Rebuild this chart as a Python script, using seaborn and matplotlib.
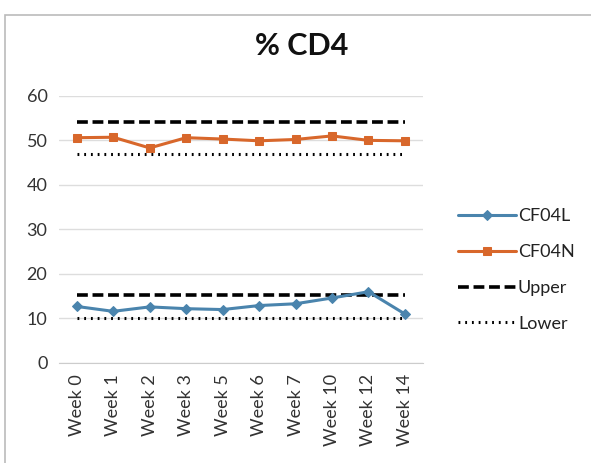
import pandas as pd
import matplotlib.pyplot as plt
import seaborn as sns
from matplotlib.patches import Rectangle

# === 1. Data ===
weeks = ["Week 0", "Week 1", "Week 2", "Week 3", "Week 5",
         "Week 6", "Week 7", "Week 10", "Week 12", "Week 14"]
cf04l = [12.7, 11.6, 12.6, 12.2, 12.0, 12.9, 13.3, 14.6, 16.0, 11.0]
cf04n = [50.6, 50.7, 48.3, 50.6, 50.3, 49.9, 50.2, 51.0, 50.0, 49.9]
upper_hi = [54.2] * len(weeks)
lower_hi = [46.9] * len(weeks)
upper_lo = [15.3] * len(weeks)
lower_lo = [10.2] * len(weeks)

df = pd.DataFrame({"week": weeks, "x": range(len(weeks)),
                   "CF04L": cf04l, "CF04N": cf04n,
                   "upper_hi": upper_hi, "lower_hi": lower_hi,
                   "upper_lo": upper_lo, "lower_lo": lower_lo})

# === 2. Plot ===
sns.set_style("white")
plt.rcParams["font.family"] = ["Lato", "DejaVu Sans"]

fig = plt.figure(figsize=(5.91, 4.63), dpi=100)
ax = fig.add_axes([0.099, 0.216, 0.617, 0.577])

blue = "#4a84ad"
orange = "#d8672b"

sns.lineplot(data=df, x="x", y="upper_hi", ax=ax, color="black", lw=2.6,
             label="Upper")
sns.lineplot(data=df, x="x", y="lower_hi", ax=ax, color="black", lw=2.2,
             label="Lower")
sns.lineplot(data=df, x="x", y="upper_lo", ax=ax, color="black", lw=2.6)
sns.lineplot(data=df, x="x", y="lower_lo", ax=ax, color="black", lw=2.2)
for ln, ls in zip(ax.lines, [(0, (3, 1.3)), (0, (0.6, 1.6)), (0, (3, 1.3)), (0, (0.6, 1.6))]):
    ln.set_linestyle(ls)

sns.lineplot(data=df, x="x", y="CF04L", ax=ax, color=blue, lw=2.2,
             marker="D", markersize=5, markeredgecolor=blue, label="CF04L")
sns.lineplot(data=df, x="x", y="CF04N", ax=ax, color=orange, lw=2.2,
             marker="s", markersize=6, markeredgecolor=orange, label="CF04N")

ax.set_xlim(-0.5, len(weeks) - 0.5)
ax.set_ylim(0, 60)
ax.set_yticks([0, 10, 20, 30, 40, 50, 60])
ax.set_xticks(range(len(weeks)))
ax.set_xticklabels(weeks, rotation=90)
ax.tick_params(axis="both", labelsize=13, colors="#333333", length=0, pad=8)
ax.set_xlabel("")
ax.set_ylabel("")
ax.yaxis.grid(True, color="#dddddd", lw=1)
for s in ["top", "right", "left"]:
    ax.spines[s].set_visible(False)
ax.spines["bottom"].set_color("#cccccc")

# Legend order: CF04L, CF04N, Upper, Lower
handles, labels = ax.get_legend_handles_labels()
order = [labels.index(l) for l in ["CF04L", "CF04N", "Upper", "Lower"]]
ax.legend([handles[i] for i in order], [labels[i] for i in order],
          loc="center left", bbox_to_anchor=(0.748, 0.417),
          bbox_transform=fig.transFigure, frameon=False,
          fontsize=13, handlelength=3.2, handletextpad=0.1, labelspacing=1.1,
          labelcolor="#222222")

fig.text(0.51, 0.9, "% CD4", ha="center", va="center", fontsize=22,
         fontweight="bold", color="#111111")

# chart frame
fig.patches.append(Rectangle((0.008, -0.1), 1.1, 1.068, transform=fig.transFigure,
                             fill=False, edgecolor="#bbbbbb", lw=1.2))

plt.savefig("out.png", dpi=100)
